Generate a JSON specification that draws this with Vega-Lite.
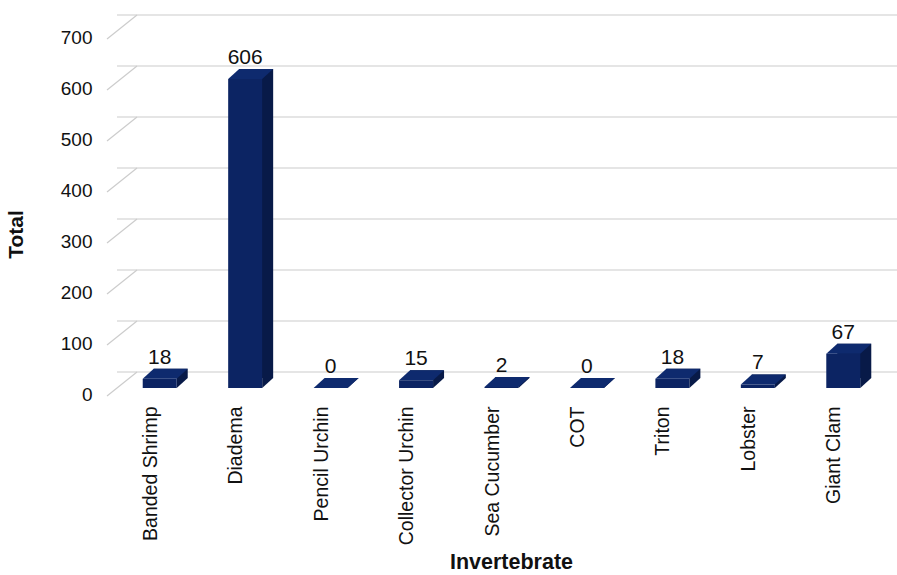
{
  "$schema": "https://vega.github.io/schema/vega-lite/v6.json",
  "autosize": "none",
  "width": 769,
  "height": 357,
  "padding": {"left": 117, "top": 31, "right": 11, "bottom": 187},
  "background": "white",
  "config": {
    "font": "Liberation Sans",
    "view": {"stroke": null}
  },
  "datasets": {
    "counts": [
      {"Invertebrate": "Banded Shrimp", "Total": 18},
      {"Invertebrate": "Diadema", "Total": 606},
      {"Invertebrate": "Pencil Urchin", "Total": 0},
      {"Invertebrate": "Collector Urchin", "Total": 15},
      {"Invertebrate": "Sea Cucumber", "Total": 2},
      {"Invertebrate": "COT", "Total": 0},
      {"Invertebrate": "Triton", "Total": 18},
      {"Invertebrate": "Lobster", "Total": 7},
      {"Invertebrate": "Giant Clam", "Total": 67}
    ],
    "levels": [
      {"level": 0}, {"level": 100}, {"level": 200}, {"level": 300},
      {"level": 400}, {"level": 500}, {"level": 600}, {"level": 700}
    ]
  },
  "layer": [
    {
      "data": {"name": "levels"},
      "mark": {"type": "rule", "color": "#cccccc", "strokeWidth": 1.2, "xOffset": 20, "yOffset": -16},
      "encoding": {
        "y": {"field": "level", "type": "quantitative", "scale": {"domain": [0, 700]},
          "axis": {
            "title": "Total", "titleFontSize": 21, "titleFontWeight": "bold", "titleColor": "#111111",
            "titlePadding": 34, "titleY": 203,
            "values": [0, 100, 200, 300, 400, 500, 600, 700],
            "labelFontSize": 19, "labelColor": "#111111", "labelPadding": 25, "labelOffset": 6,
            "domain": false, "ticks": false, "grid": false
          }
        }
      }
    },
    {
      "data": {"name": "levels"},
      "mark": {"type": "rule", "color": "#cccccc", "strokeWidth": 1.2, "xOffset": -10, "x2Offset": 20, "yOffset": 8, "y2Offset": -16},
      "encoding": {
        "x": {"value": 0},
        "x2": {"value": 0},
        "y": {"field": "level", "type": "quantitative"},
        "y2": {"field": "level"}
      }
    },
    {
      "data": {"name": "counts"},
      "layer": [
        {
          "mark": {"type": "bar", "color": "#081a48", "size": 34, "xOffset": 11, "yOffset": -10, "y2Offset": -10},
          "encoding": {
            "x": {"field": "Invertebrate", "type": "nominal", "sort": null,
              "scale": {"paddingInner": 0, "paddingOuter": 0},
              "axis": {
                "title": "Invertebrate", "titleFontSize": 21.5, "titleFontWeight": "bold", "titleColor": "#111111",
                "titleBaseline": "alphabetic", "titleY": 180, "titleX": 394,
                "labelAngle": -90, "labelAlign": "right", "labelBaseline": "middle",
                "labelFontSize": 19.5, "labelColor": "#111111", "labelPadding": 18, "labelOffset": -9,
                "domain": false, "ticks": false, "labelLimit": 200
              }
            },
            "y": {"field": "Total", "type": "quantitative"},
            "y2": {"datum": 0}
          }
        },
        {
          "mark": {"type": "point", "shape": "M 17 -10 L 28 -10 L 17 0 Z", "size": 4, "filled": true, "opacity": 1, "color": "#081a48", "strokeWidth": 0},
          "encoding": {
            "x": {"field": "Invertebrate", "type": "nominal", "sort": null},
            "y": {"datum": 0, "type": "quantitative"}
          }
        },
        {
          "mark": {"type": "bar", "color": "#0c2463", "size": 34},
          "encoding": {
            "x": {"field": "Invertebrate", "type": "nominal", "sort": null},
            "y": {"field": "Total", "type": "quantitative"},
            "y2": {"datum": 0}
          }
        },
        {
          "mark": {"type": "point", "shape": "M -17 0 L 17 0 L 28 -10 L -6 -10 Z", "size": 4, "filled": true, "opacity": 1, "color": "#0e2a6e", "strokeWidth": 0},
          "encoding": {
            "x": {"field": "Invertebrate", "type": "nominal", "sort": null},
            "y": {"field": "Total", "type": "quantitative"}
          }
        },
        {
          "mark": {"type": "text", "fontSize": 21, "color": "#111111", "baseline": "alphabetic", "dy": -15},
          "encoding": {
            "x": {"field": "Invertebrate", "type": "nominal", "sort": null},
            "y": {"field": "Total", "type": "quantitative"},
            "text": {"field": "Total", "type": "quantitative"}
          }
        }
      ]
    }
  ]
}
